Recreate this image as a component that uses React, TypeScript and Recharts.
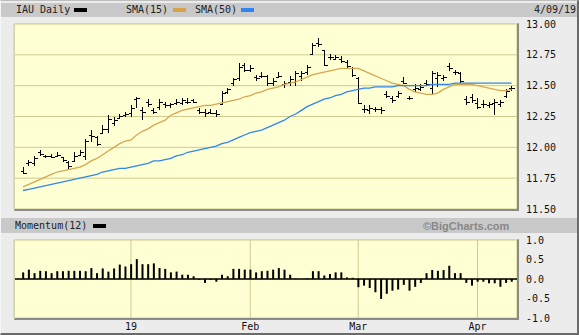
import React from 'react';
import {
  ComposedChart,
  Bar,
  Line,
  XAxis,
  YAxis,
  CartesianGrid,
  ReferenceLine,
} from 'recharts';

// IAU daily, Dec 3 2018 .. Apr 9 2019 (one entry per trading day)
const OPEN = [
  11.81, 11.87, 11.87, 11.96, 11.93, 11.93, 11.93, 11.92, 11.88, 11.89,
  11.94, 11.93, 12.10, 12.08, 12.12, 12.15, 12.20, 12.24, 12.26, 12.28,
  12.39, 12.30, 12.37, 12.30, 12.33, 12.35, 12.34, 12.36, 12.36, 12.37,
  12.38, 12.30, 12.29, 12.29, 12.28, 12.35, 12.45, 12.52, 12.56, 12.67,
  12.63, 12.57, 12.58, 12.58, 12.52, 12.57, 12.51, 12.53, 12.53, 12.58,
  12.61, 12.76, 12.85, 12.79, 12.73, 12.72, 12.72, 12.69, 12.64, 12.56,
  12.31, 12.30, 12.31, 12.31, 12.43, 12.40, 12.42, 12.54, 12.40, 12.47,
  12.47, 12.52, 12.48, 12.56, 12.56, 12.66, 12.61, 12.60, 12.39, 12.41,
  12.36, 12.35, 12.34, 12.36, 12.35, 12.42, 12.48,
];
const HIGH = [
  11.84, 11.90, 11.93, 11.98, 11.94, 11.95, 11.96, 11.92, 11.89, 11.96,
  11.98, 12.07, 12.14, 12.09, 12.18, 12.26, 12.25, 12.27, 12.29, 12.34,
  12.41, 12.33, 12.39, 12.32, 12.39, 12.37, 12.36, 12.39, 12.40, 12.40,
  12.39, 12.32, 12.31, 12.31, 12.30, 12.46, 12.48, 12.56, 12.68, 12.68,
  12.67, 12.59, 12.61, 12.59, 12.56, 12.61, 12.54, 12.58, 12.62, 12.62,
  12.67, 12.85, 12.89, 12.79, 12.76, 12.75, 12.74, 12.71, 12.65, 12.57,
  12.34, 12.34, 12.33, 12.33, 12.46, 12.42, 12.46, 12.57, 12.42, 12.51,
  12.51, 12.55, 12.62, 12.61, 12.59, 12.68, 12.63, 12.61, 12.42, 12.43,
  12.40, 12.38, 12.37, 12.39, 12.38, 12.47, 12.50,
];
const LOW = [
  11.78, 11.85, 11.85, 11.93, 11.91, 11.91, 11.92, 11.88, 11.82, 11.88,
  11.93, 11.90, 12.04, 12.01, 12.11, 12.12, 12.17, 12.23, 12.25, 12.25,
  12.32, 12.22, 12.33, 12.27, 12.30, 12.32, 12.32, 12.34, 12.34, 12.35,
  12.36, 12.27, 12.25, 12.27, 12.25, 12.35, 12.43, 12.50, 12.54, 12.61,
  12.61, 12.54, 12.56, 12.50, 12.50, 12.56, 12.48, 12.50, 12.50, 12.54,
  12.59, 12.75, 12.81, 12.66, 12.71, 12.71, 12.68, 12.64, 12.57, 12.35,
  12.28, 12.27, 12.29, 12.27, 12.40, 12.36, 12.40, 12.51, 12.38, 12.45,
  12.46, 12.50, 12.43, 12.49, 12.54, 12.62, 12.59, 12.52, 12.34, 12.36,
  12.31, 12.32, 12.32, 12.26, 12.33, 12.40, 12.46,
];
const CLOSE = [
  11.79, 11.88, 11.91, 11.95, 11.93, 11.92, 11.94, 11.90, 11.85, 11.93,
  11.96, 12.05, 12.09, 12.03, 12.15, 12.23, 12.22, 12.25, 12.27, 12.32,
  12.40, 12.29, 12.35, 12.29, 12.37, 12.34, 12.35, 12.37, 12.38, 12.37,
  12.37, 12.29, 12.28, 12.28, 12.27, 12.44, 12.47, 12.55, 12.65, 12.63,
  12.64, 12.56, 12.58, 12.52, 12.54, 12.58, 12.52, 12.55, 12.60, 12.60,
  12.65, 12.83, 12.84, 12.67, 12.73, 12.73, 12.70, 12.66, 12.59, 12.36,
  12.31, 12.32, 12.31, 12.30, 12.42, 12.38, 12.44, 12.52, 12.40, 12.48,
  12.49, 12.51, 12.60, 12.59, 12.57, 12.64, 12.61, 12.54, 12.37, 12.38,
  12.33, 12.35, 12.35, 12.37, 12.37, 12.46, 12.48,
];
const SMA15 = [
  11.68, 11.70, 11.72, 11.74, 11.76, 11.78, 11.80, 11.81, 11.82, 11.83,
  11.84, 11.86, 11.89, 11.91, 11.94, 11.97, 12.00, 12.03, 12.05, 12.06,
  12.10, 12.13, 12.15, 12.18, 12.20, 12.22, 12.26, 12.28, 12.30, 12.31,
  12.32, 12.33, 12.34, 12.34, 12.35, 12.36, 12.37, 12.38, 12.39, 12.41,
  12.42, 12.44, 12.45, 12.47, 12.48, 12.49, 12.51, 12.52, 12.53, 12.55,
  12.57, 12.59, 12.60, 12.61, 12.62, 12.63, 12.64, 12.64, 12.64, 12.64,
  12.62, 12.60, 12.58, 12.56, 12.54, 12.52, 12.51, 12.50, 12.47, 12.45,
  12.44, 12.43, 12.43, 12.44, 12.47, 12.49, 12.51, 12.51, 12.51, 12.51,
  12.50, 12.49, 12.48, 12.47, 12.46, 12.46, 12.47,
];
const SMA50 = [
  11.65, 11.66, 11.67, 11.68, 11.69, 11.70, 11.71, 11.72, 11.73, 11.74,
  11.75, 11.76, 11.77, 11.78, 11.80, 11.81, 11.82, 11.83, 11.83, 11.84,
  11.85, 11.86, 11.87, 11.89, 11.89, 11.90, 11.91, 11.93, 11.94, 11.96,
  11.97, 11.98, 11.99, 12.00, 12.01, 12.03, 12.04, 12.06, 12.08, 12.10,
  12.12, 12.13, 12.14, 12.16, 12.18, 12.20, 12.22, 12.25, 12.27, 12.30,
  12.33, 12.35, 12.37, 12.39, 12.40, 12.42, 12.43, 12.45, 12.46, 12.47,
  12.48, 12.48, 12.49, 12.49, 12.49, 12.49, 12.50, 12.50, 12.50, 12.50,
  12.50, 12.50, 12.51, 12.51, 12.51, 12.51, 12.52, 12.52, 12.52, 12.52,
  12.52, 12.52, 12.52, 12.52, 12.52, 12.52, 12.52,
];
const MOMENTUM = [
  0.17, 0.24, 0.15, 0.21, 0.20, 0.15, 0.20, 0.20, 0.21, 0.21,
  0.21, 0.20, 0.28, 0.15, 0.27, 0.19, 0.27, 0.37, 0.32, 0.38,
  0.51, 0.38, 0.38, 0.40, 0.28, 0.26, 0.17, 0.19, 0.11, 0.11,
  0.07, -0.02, -0.10, -0.02, -0.07, 0.11, 0.07, 0.26, 0.26, 0.24,
  0.24, 0.17, 0.20, 0.21, 0.24, 0.28, 0.24, 0.11, 0.01, 0.00,
  0.02, 0.20, 0.20, 0.09, 0.13, 0.17, 0.17, 0.04, 0.03, -0.21,
  -0.17, -0.23, -0.34, -0.51, -0.38, -0.30, -0.27, -0.15, -0.30, -0.20,
  -0.10, 0.15, 0.23, 0.21, 0.23, 0.34, 0.15, 0.15, -0.10, -0.17,
  -0.07, -0.07, -0.11, -0.11, -0.20, -0.10, -0.07,
];

// first trading day of each month (index into the arrays above)
const MONTH_TICKS = [19, 40, 59, 80];
const MONTH_LABELS = ['19', 'Feb', 'Mar', 'Apr'];
const PRICE_TICKS = [11.5, 11.75, 12, 12.25, 12.5, 12.75, 13];
const MOM_TICKS = [-1, -0.5, 0, 0.5, 1];

const data = CLOSE.map((c, i) => ({
  i,
  o: OPEN[i],
  h: HIGH[i],
  l: LOW[i],
  c,
  range: [LOW[i], HIGH[i]],
  sma15: SMA15[i],
  sma50: SMA50[i],
  mom: MOMENTUM[i],
}));

const X_DOMAIN: [number, number] = [-1.59, 86.95];
const FONT = '"DejaVu Sans Mono", "Liberation Mono", monospace';
const PLOT_BG = '#ffffd4';
const GRID = '#cfca90';

function OhlcBar(props: any) {
  const { x, y, width, height, payload } = props;
  const top = Math.min(y, y + height);
  const h = Math.abs(height);
  const cx = Math.round(x + width / 2) + 0.5;
  const span = payload.h - payload.l || 1;
  const yo = Math.round(top + ((payload.h - payload.o) / span) * h) + 0.5;
  const yc = Math.round(top + ((payload.h - payload.c) / span) * h) + 0.5;
  return (
    <g stroke="#000" strokeWidth={1} shapeRendering="crispEdges">
      <line x1={cx} x2={cx} y1={top} y2={top + Math.max(h, 2)} />
      <line x1={cx - 3} x2={cx} y1={yo} y2={yo} />
      <line x1={cx} x2={cx + 3} y1={yc} y2={yc} />
    </g>
  );
}

const swatch = (color: string, left: number, top: number) => (
  <div style={{ position: 'absolute', left, top, width: 13, height: 4, background: color }} />
);

const label = (text: string, left: number, top: number, extra: any = {}) => (
  <div style={{ position: 'absolute', left, top, fontFamily: FONT, fontSize: 10, lineHeight: '12px', color: '#222', whiteSpace: 'nowrap', ...extra }}>
    {text}
  </div>
);

export default function App() {
  return (
    <div
      style={{
        position: 'absolute',
        left: 0,
        top: 0,
        width: 579,
        height: 335,
        boxSizing: 'border-box',
        background: '#ececec',
        borderTop: '1px solid #bdbdbd',
        borderLeft: '1px solid #f6f6f6',
        borderRight: '2px solid #6a6a6a',
        borderBottom: '2px solid #6a6a6a',
        overflow: 'hidden',
      }}
    >
      {/* top header band */}
      <div style={{ position: 'absolute', left: 0, top: 2, width: 579, height: 14, background: '#c9c9c9' }} />
      {label('IAU Daily', 15, 3)}
      {swatch('#000', 73, 7)}
      {label('SMA(15)', 125, 3)}
      {swatch('#d6a249', 172, 7)}
      {label('SMA(50)', 194, 3)}
      {swatch('#2f86f0', 240, 7)}
      {label('4/09/19', 533, 3)}

      {/* momentum header band */}
      <div style={{ position: 'absolute', left: 0, top: 217, width: 579, height: 15, background: '#c9c9c9' }} />
      {label('Momentum(12)', 14, 219)}
      {swatch('#000', 92, 223)}
      {label('\u00a9BigCharts.com', 422, 219, { fontFamily: 'Arial, "Liberation Sans", sans-serif', fontWeight: 'bold', color: '#888', fontSize: 11 })}

      <div style={{ position: 'absolute', left: 0, top: 0 }}>
        <ComposedChart
          width={577}
          height={215}
          data={data}
          margin={{ top: 23, right: 0, left: 13, bottom: 0 }}
        >
          <CartesianGrid stroke={GRID} fill={PLOT_BG} strokeWidth={1} />
          <XAxis
            dataKey="i"
            type="number"
            domain={X_DOMAIN}
            ticks={MONTH_TICKS}
            tick={false}
            tickLine={false}
            axisLine={false}
            height={7}
          />
          <YAxis
            orientation="right"
            domain={[11.5, 13]}
            ticks={PRICE_TICKS}
            width={61}
            axisLine={false}
            tickLine={false}
            tickSize={6}
            tickMargin={3}
            tickFormatter={(v: number) => v.toFixed(2)}
            tick={{ fontFamily: FONT, fontSize: 10, fill: '#111' }}
          />
          <Line
            dataKey="sma15"
            stroke="#d9a650"
            strokeWidth={1.3}
            dot={false}
            isAnimationActive={false}
          />
          <Line
            dataKey="sma50"
            stroke="#2f86f0"
            strokeWidth={1.3}
            dot={false}
            isAnimationActive={false}
          />
          <Bar dataKey="range" barSize={6} shape={OhlcBar} isAnimationActive={false} />
        </ComposedChart>
      </div>

      <div style={{ position: 'absolute', left: 0, top: 230 }}>
        <ComposedChart
          width={577}
          height={104}
          data={data}
          margin={{ top: 9, right: 0, left: 13, bottom: 0 }}
        >
          <CartesianGrid stroke={GRID} fill={PLOT_BG} strokeWidth={1} />
          <XAxis
            dataKey="i"
            type="number"
            domain={X_DOMAIN}
            ticks={MONTH_TICKS}
            tickFormatter={(v: number) => MONTH_LABELS[MONTH_TICKS.indexOf(v)] ?? ''}
            axisLine={false}
            tickLine={false}
            tickSize={0}
            tickMargin={5}
            height={17}
            tick={{ fontFamily: FONT, fontSize: 10, fill: '#111' }}
          />
          <YAxis
            orientation="right"
            domain={[-1, 1]}
            ticks={MOM_TICKS}
            width={61}
            axisLine={false}
            tickLine={false}
            tickSize={6}
            tickMargin={3}
            tickFormatter={(v: number) => v.toFixed(1)}
            tick={{ fontFamily: FONT, fontSize: 10, fill: '#111' }}
          />
          <ReferenceLine y={0} stroke="#000" strokeWidth={1.5} />
          <Bar dataKey="mom" barSize={2} fill="#000" isAnimationActive={false} />
        </ComposedChart>
      </div>

      {/* plot frames: light top/left edge, shaded bottom/right edge */}
      <div style={{ position: 'absolute', left: 13, top: 22, width: 502, height: 185, borderTop: '1px solid #d9d6a6', borderLeft: '1px solid #d9d6a6', borderRight: '2px solid #8a8a8a', borderBottom: '2px solid #8a8a8a', pointerEvents: 'none' }} />
      <div style={{ position: 'absolute', left: 13, top: 238, width: 502, height: 78, borderTop: '1px solid #d9d6a6', borderLeft: '1px solid #d9d6a6', borderRight: '2px solid #8a8a8a', borderBottom: '2px solid #8a8a8a', pointerEvents: 'none' }} />
    </div>
  );
}
